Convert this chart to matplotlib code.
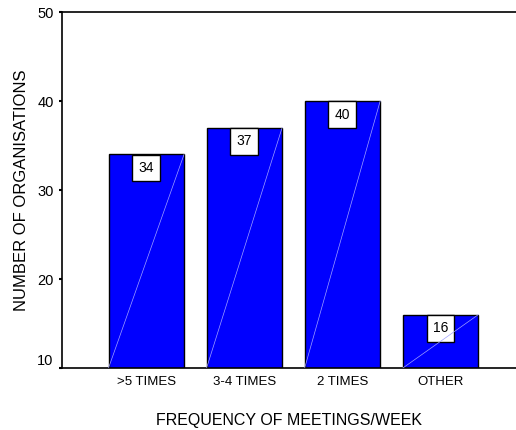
import matplotlib.pyplot as plt
import numpy as np

plt.rcParams['font.family'] = ['Liberation Sans', 'DejaVu Sans']

categories = ['>5 TIMES', '3-4 TIMES', '2 TIMES', 'OTHER']
counts = [34, 37, 40, 16]
yticks = [10, 20, 30, 40, 50]

fig = plt.figure(figsize=(5.16, 4.30), dpi=100)
ax = fig.add_axes([0.120, 0.144, 0.88, 0.828])

x = np.arange(len(categories))
width = 0.77
base = 10
ax.bar(x, counts, width=width, color='#0000ff', edgecolor='black', linewidth=1.0, zorder=2)

for xi, c in zip(x, counts):
    # faint diagonal from bottom-left to top-right of each bar
    ax.plot([xi - width / 2, xi + width / 2], [base, c], color='#a0a0ff', lw=0.5, zorder=4)
    ax.text(xi, c - 0.75, str(c), ha='center', va='top', fontsize=10, zorder=3,
            bbox=dict(boxstyle='square,pad=0.45', fc='white', ec='black', lw=1.0))

ax.set_xlim(-0.86, 3.77)
ax.set_ylim(10, 50)
ax.set_yticks(yticks)
ax.set_yticklabels([str(t) for t in yticks], fontsize=10.5)
ax.get_yticklabels()[0].set_verticalalignment('bottom')
ax.set_xticks(x)
ax.set_xticklabels(categories, fontsize=9.5)
ax.tick_params(axis='x', length=0, pad=6)
ax.tick_params(axis='y', length=2, width=1.5, pad=4)

ax.spines['right'].set_visible(False)
for s in ['left', 'top', 'bottom']:
    ax.spines[s].set_linewidth(1.2)

ax.set_xlabel('FREQUENCY OF MEETINGS/WEEK', fontsize=11.5, labelpad=18)
ax.set_ylabel('NUMBER OF ORGANISATIONS', fontsize=12, labelpad=6)

fig.savefig('out.png', dpi=100)
